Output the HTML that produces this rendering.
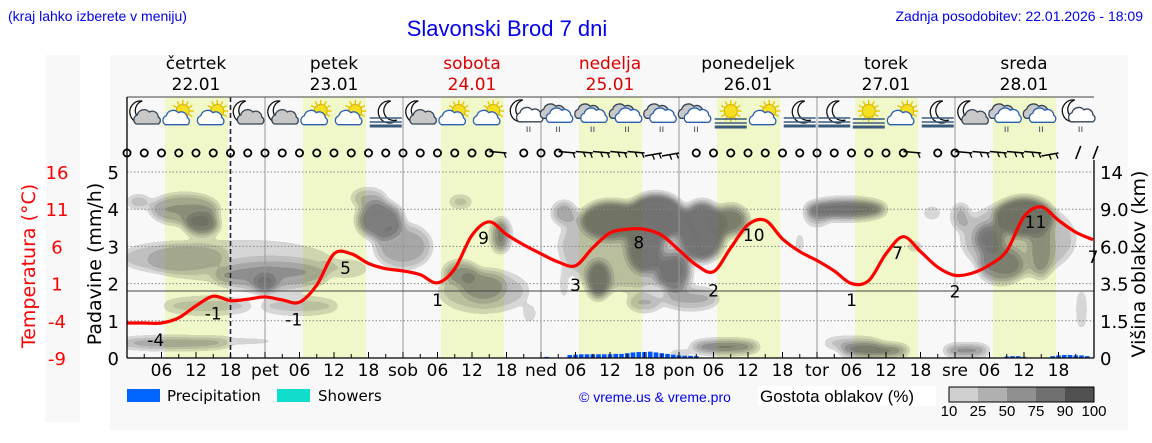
<!DOCTYPE html>
<html><head><meta charset="utf-8"><style>
html,body{margin:0;padding:0;background:#fff;}
svg{display:block;font-family:"Liberation Sans","DejaVu Sans",sans-serif;}
.dj{font-family:"DejaVu Sans","Liberation Sans",sans-serif;}
</style></head><body>
<svg id="chart" width="1152" height="443" viewBox="0 0 1152 443" xmlns="http://www.w3.org/2000/svg">
<defs>
<filter id="cl" x="-20%" y="-20%" width="140%" height="140%">
<feGaussianBlur stdDeviation="4.5"/>
<feComponentTransfer><feFuncA type="discrete" tableValues="0 0.18 0.3 0.42 0.55 0.65 0.7 0.7"/></feComponentTransfer>
</filter>
<clipPath id="plotclip"><rect x="127" y="160" width="967" height="198"/></clipPath>
</defs>
<rect x="45" y="55" width="35" height="367" fill="#f8f8f8"/>
<rect x="110" y="55" width="1018" height="375" fill="#f8f8f8"/>
<text x="8" y="21" font-size="14" fill="#0000ee">(kraj lahko izberete v meniju)</text>
<text x="507" y="36" font-size="22" fill="#0000ee" text-anchor="middle">Slavonski Brod 7 dni</text>
<text x="1143" y="21" font-size="14" fill="#0000ee" text-anchor="end">Zadnja posodobitev: 22.01.2026 - 18:09</text>
<g id="days"></g>
<g id="clouds" clip-path="url(#plotclip)" filter="url(#cl)"></g>
<g id="grid"></g>
<g id="icons"></g>
<g id="wind"></g>
<g id="precip"></g>
<g id="temp"></g>
<g id="axes"></g>
<g id="legend">
<rect x="127" y="389" width="33" height="13" fill="#0066ff"/>
<text x="167" y="401" font-size="15" class="dj">Precipitation</text>
<rect x="277" y="389" width="33" height="13" fill="#11ddcc"/>
<text x="318" y="401" font-size="15" class="dj">Showers</text>
<text x="579" y="402" font-size="14" fill="#0000ee">© vreme.us &amp; vreme.pro</text>
<rect x="758" y="386" width="178" height="20" fill="#fff"/>
<text x="760" y="402" font-size="17">Gostota oblakov (%)</text>
<g id="cbar"></g>
</g>
</svg>
<script>
const NS="http://www.w3.org/2000/svg";
function mk(tag,attrs,parent){const e=document.createElementNS(NS,tag);for(const k in attrs)e.setAttribute(k,attrs[k]);parent.appendChild(e);return e;}
const X0=127, PXH=5.75, Y0=358, PXMM=37.2, T0Y=291, PXT=7.44;
const xH=h=>X0+h*PXH, yP=v=>Y0-v*PXMM, yT=t=>T0Y-t*PXT;

// data
const dayNames=["četrtek","petek","sobota","nedelja","ponedeljek","torek","sreda"];
const dayDates=["22.01","23.01","24.01","25.01","26.01","27.01","28.01"];
const dayAbbr=["","pet","sob","ned","pon","tor","sre"];
const weekend=[false,false,true,true,false,false,false];
const sunrise=[6.6,6.6,6.6,6.6,6.6,6.6,6.6];
const sunset=[17.6,17.6,17.6,17.6,17.6,17.6,17.6];
const tempHours=[0,3,6,9,12,15,18,21,24,27,30,33,36,39,42,45,48,51,54,57,60,63,66,69,72,75,78,81,84,87,90,93,96,99,102,105,108,111,114,117,120,123,126,129,132,135,138,141,144,147,150,153,156,159,162,165,168];
const tempVals=[-4.3,-4.3,-4.3,-3.6,-2.0,-0.7,-1.3,-1.1,-0.8,-1.2,-1.5,0.8,5.0,5.0,3.7,3.0,2.7,2.2,1.1,3.0,7.5,9.3,7.6,6.2,5.0,3.9,3.4,5.8,7.8,8.3,8.3,7.5,5.5,3.5,2.6,5.8,8.9,9.5,7.0,5.3,4.1,2.7,1.0,1.4,5.0,7.3,5.3,3.2,2.1,2.4,3.5,5.4,10.0,11.3,9.5,7.9,6.9];
const tempLabelHours=[5,15,29,38,54,62,78,89,102,109,126,134,144,158,168];
const tempLabelVals=[-4,-1,-1,5,1,9,3,8,2,10,1,7,2,11,7];
const tempLabelOffsets=[-2.6,-2.0,-2.8,-1.9,-2.2,-1.9,-2.2,-1.5,-1.9,-2.5,-2.2,-1.9,-2.1,-1.7,-2.4];
const precipHours=[73,77,78,79,80,81,82,83,84,85,86,87,88,89,90,91,92,93,94,95,96,97,98,99,153,154,155,156,161,162,163,164,165,166,167];
const precipVals=[0.03,0.08,0.09,0.1,0.1,0.1,0.1,0.1,0.1,0.11,0.11,0.13,0.15,0.16,0.16,0.17,0.15,0.13,0.11,0.09,0.07,0.06,0.06,0.05,0.04,0.05,0.05,0.03,0.05,0.07,0.08,0.08,0.07,0.07,0.05];
// cloud blobs: hour, height (left-axis units), half-width (h), half-height, density
const cloudHours=[10,13,2,8,25,24,30,14,8,20,44,42,48,38,58,62,58,65,70,76,84,92,90,82,95,100,105,90,98,76,104,96,125,120,117,130,126,140,145,137,156,150,152,159,146,166,87,155,62,20];
const cloudHeights=[4.0,3.6,4.2,2.7,2.2,2.0,1.4,1.4,0.4,0.45,3.7,4.3,3.0,2.4,2.3,1.9,4.2,3.3,1.2,3.9,3.7,3.8,3.0,2.1,2.3,3.4,3.7,1.5,1.6,2.0,0.3,0.1,4.0,3.8,3.1,0.2,0.4,3.9,3.8,3.0,3.8,3.2,2.5,3.0,0.2,1.3,3.0,3.2,1.8,2.6];
const cloudWidths=[6,3,2,9,10,2,7,8,10,8,4,3,5,4,3,4,2,1.5,1,2,5,5,3,2,3,4,3,3,5,0.5,6,2,7,2,0.5,6,5,1.5,1.5,1.5,5,2.5,4,2,4,0.5,12,10,8,16];
const cloudSpans=[0.4,0.3,0.15,0.4,0.4,0.25,0.25,0.25,0.12,0.08,0.5,0.25,0.6,0.25,0.3,0.4,0.15,0.45,0.25,0.3,0.5,0.6,0.7,0.5,0.5,0.8,0.4,0.25,0.3,0.5,0.15,0.08,0.25,0.25,0.35,0.15,0.15,0.15,0.35,0.12,0.5,0.4,0.5,0.9,0.12,0.6,1.2,1.0,0.6,0.6];
const cloudDens=[0.5,0.75,0.45,0.35,0.4,0.75,0.3,0.3,0.7,0.3,0.7,0.4,0.4,0.25,0.5,0.4,0.4,0.7,0.3,0.5,0.85,0.95,0.85,0.85,0.75,0.85,0.7,0.4,0.4,0.35,0.8,0.45,0.85,0.4,0.35,0.85,0.4,0.35,0.45,0.35,0.95,0.7,0.55,0.4,0.8,0.45,0.3,0.3,0.28,0.22];
const iconTypes=["mc","sc","sc","mc","mc","sc","sc","mf","mc","sc","sc","mr","r","r","r","r","r","sf","sc","mf","mf","sf","sc","mf","mc","r","r","mr"];
const windSpeed=[0,0,0,0,0,0,0,0,0,0,0,0,0,0,0,0,0,0,0,0,0,0,2,0,0,0,2,3,3,3,3,4,4,0,0,0,0,0,0,0,0,0,0,0,0,0,2,0,0,2,3,3,3,3,4,5,5];
const leftTicks=[0,1,2,3,4,5];
const tempTicks=[16,11,6,1,-4,-9];
const rightTicks=["0","1.5","3.5","6.0","9.0","14"];
const cbarLabels=["10","25","50","75","90","100"];
const cbarColors=["#d0d0d0","#b0b0b0","#909090","#707070","#505050"];

const gDays=document.getElementById('days');
for(let d=0;d<7;d++){
  const r=mk('rect',{x:xH(d*24+sunrise[d]),y:97,width:(sunset[d]-sunrise[d])*PXH,height:261,fill:'#f0f7c8'},gDays);
  
  
  const col=weekend[d]?'#dd0000':'#000';
  const t1=mk('text',{x:xH(d*24+12),y:69,'font-size':17,'text-anchor':'middle',fill:col,class:'dj'},gDays);t1.textContent=dayNames[d];
  
  
  const t2=mk('text',{x:xH(d*24+12),y:90,'font-size':17,'text-anchor':'middle',fill:col,class:'dj'},gDays);t2.textContent=dayDates[d];
  
  
}
// clouds
const gC=document.getElementById('clouds');
for(let i=0;i<cloudHours.length;i++){
  const e=mk('ellipse',{cx:xH(cloudHours[i]),cy:yP(cloudHeights[i]),rx:Math.max(cloudWidths[i]*PXH,3),ry:Math.max(cloudSpans[i]*PXMM,3),fill:'#3a3a3a','fill-opacity':cloudDens[i]},gC);
  
  
}
// grid
const gG=document.getElementById('grid');
for(const v of leftTicks){ if(v===0)continue;
  const l=mk('line',{x1:127,x2:1094,y1:yP(v),y2:yP(v),stroke:'#888','stroke-dasharray':'1.5,2','stroke-width':1},gG);
  
  
}
for(let d=1;d<7;d++){
  const l=mk('line',{x1:xH(d*24),x2:xH(d*24),y1:97,y2:358,stroke:'#999','stroke-width':1},gG);
  
  
}
const zl=mk('line',{x1:127,x2:1094,y1:yT(0),y2:yT(0),stroke:'#444','stroke-width':1},gG);


const nowL=mk('line',{x1:xH(18),x2:xH(18),y1:97,y2:358,stroke:'#222','stroke-width':1.6,'stroke-dasharray':'5,3'},gG);


mk('line',{x1:127,x2:1094,y1:97,y2:97,stroke:'#444'},gG);
// icons
const gI=document.getElementById('icons');
function cloud(g,cx,cy,s,fill,stroke){
  mk('path',{d:`M${cx-11*s},${cy+6*s} a5 5 0 0 1 1,-9 a7 7 0 0 1 12,-3 a6 6 0 0 1 9,5 a4 4 0 0 1 0,7 z`,fill:fill,stroke:stroke,'stroke-width':1.3},g);
}
function sun(g,cx,cy){
  for(let a=0;a<12;a++){const an=a*Math.PI/6;mk('line',{x1:cx+Math.cos(an)*7,y1:cy+Math.sin(an)*7,x2:cx+Math.cos(an)*11,y2:cy+Math.sin(an)*11,stroke:'#e8c800','stroke-width':1.5},g);}
  mk('circle',{cx:cx,cy:cy,r:6.5,fill:'#f4e020',stroke:'#d8b000','stroke-width':1},g);
}
function moon(g,cx,cy){
  mk('path',{d:`M${cx+3},${cy-11} a11 11 0 1 0 6,19 a9 9 0 0 1 -6,-19 z`,fill:'#fff',stroke:'#111','stroke-width':1.3},g);
}
function fog(g,cx,cy){
  for(let k=0;k<3;k++)mk('line',{x1:cx-16,x2:cx+16,y1:cy+k*4,y2:cy+k*4,stroke:'#3a5a7a','stroke-width':k==2?3:1.5},g);
}
for(let k=0;k<iconTypes.length;k++){
  const cx=xH(k*6+3), cy=114, t=iconTypes[k];
  const g=mk('g',{},gI);
  
  
  if(t==='mc'){moon(g,cx-5,cy-2);cloud(g,cx+3,cy+4,1,'#c8c8c8','#345');}
  else if(t==='sc'){sun(g,cx+4,cy-3);cloud(g,cx-3,cy+5,0.95,'#fff','#2a60b0');}
  else if(t==='mf'){moon(g,cx+2,cy-2);fog(g,cx,cy+4);}
  else if(t==='sf'){sun(g,cx,cy-3);fog(g,cx,cy+5);}
  else if(t==='mr'){moon(g,cx-4,cy-3);cloud(g,cx+4,cy+3,0.8,'#fff','#345');mk('text',{x:cx+2,y:cy+18,'font-size':10,fill:'#345'},g).textContent='ıı';}
  else {cloud(g,cx-4,cy-2,1.05,'#c8c8c8','#345');cloud(g,cx+2,cy+2,1.05,'#fff','#2a60b0');mk('text',{x:cx-3,y:cy+18,'font-size':10,fill:'#345'},g).textContent='ıı';}
}
// wind
const gW=document.getElementById('wind');
for(let i=0;i<windSpeed.length;i++){
  const x=xH(i*3), y=153;
  if(windSpeed[i]===0){
    const c=mk('circle',{cx:x,cy:y,r:3.6,fill:'none',stroke:'#000','stroke-width':1.8},gW);
    
    
  } else {
    const g=mk('g',{},gW);
    
    
    const s=windSpeed[i];
    const dy = s>=5?-13: (s>=4?3:-1.5);
    const dx = s>=5?5:-17;
    mk('line',{x1:x,y1:y+(s>=5?6:0),x2:x+dx,y2:y+dy+(s>=5?6:0),stroke:'#000','stroke-width':1.6},g);
    if(s<5) for(let b=0;b<Math.min(s,3);b+=2){
      mk('line',{x1:x+dx*(0.15+b*0.2),y1:y+dy*(0.15+b*0.2),x2:x+dx*(0.15+b*0.2)+2,y2:y+dy*(0.15+b*0.2)+5,stroke:'#000','stroke-width':1.3},g);
    }
  }
}
// precipitation
const gP=document.getElementById('precip');
for(let i=0;i<precipHours.length;i++){
  const h=precipVals[i]*PXMM;
  const r=mk('rect',{x:xH(precipHours[i])-2.3,y:Y0-h,width:4.6,height:h,fill:'#0055ff'},gP);
  
  
}
// temperature
const gT=document.getElementById('temp');
const pts=tempHours.map((h,i)=>[xH(h),yT(tempVals[i])]);
let d=`M${pts[0][0]},${pts[0][1]}`;
for(let i=0;i<pts.length-1;i++){
  const p0=pts[Math.max(i-1,0)],p1=pts[i],p2=pts[i+1],p3=pts[Math.min(i+2,pts.length-1)];
  d+=` C${p1[0]+(p2[0]-p0[0])/6},${p1[1]+(p2[1]-p0[1])/6} ${p2[0]-(p3[0]-p1[0])/6},${p2[1]-(p3[1]-p1[1])/6} ${p2[0]},${p2[1]}`;
}
const tl=mk('path',{d:d,fill:'none',stroke:'#ff0000','stroke-width':3.2,'stroke-linejoin':'round'},gT);


for(let i=0;i<tempLabelHours.length;i++){
  const t=mk('text',{x:xH(tempLabelHours[i]),y:yT(tempLabelVals[i]+tempLabelOffsets[i])+6,'font-size':17,'text-anchor':'middle',fill:'#000',class:'dj'},gT);
  t.textContent=tempLabelVals[i];
  
  
}
// axes
const gA=document.getElementById('axes');
mk('line',{x1:127,x2:127,y1:97,y2:358,stroke:'#000','stroke-width':1.3},gA);
mk('line',{x1:1094,x2:1094,y1:160,y2:358,stroke:'#000','stroke-width':1.3},gA);
mk('line',{x1:127,x2:1094,y1:358,y2:358,stroke:'#000','stroke-width':1.3},gA);
for(const v of leftTicks){
  const t=mk('text',{x:119,y:yP(v)+7,'font-size':18,'text-anchor':'end',class:'dj'},gA);t.textContent=v;
  
  
}
tempTicks.forEach((v,i)=>{
  const t=mk('text',{x:57,y:yT(v)+7,'font-size':18,'text-anchor':'middle',fill:'#ff0000',class:'dj'},gA);t.textContent=v;
  
  
});
rightTicks.forEach((v,i)=>{
  const t=mk('text',{x:1100,y:yP(i)+7,'font-size':18,class:'dj'},gA);t.textContent=v;
  
  
});
for(let h=3;h<168;h+=3){
  mk('line',{x1:xH(h),x2:xH(h),y1:358,y2:h%6?354:352,stroke:'#000'},gA);
}
for(let dd=0;dd<7;dd++){
  for(const hh of [0,6,12,18]){
    const lab = hh===0?dayAbbr[dd]:String(hh).padStart(2,'0');
    if(!lab)continue;
    const t=mk('text',{x:xH(dd*24+hh),y:376,'font-size':17,'text-anchor':'middle',class:'dj'},gA);t.textContent=lab;
    
    
  }
}
const yl=mk('text',{x:0,y:0,'font-size':19,'text-anchor':'middle',transform:'translate(101,264) rotate(-90)',class:'dj'},gA);yl.textContent='Padavine (mm/h)';


const tt=mk('text',{x:0,y:0,'font-size':19,'text-anchor':'middle',fill:'#ff0000',transform:'translate(35,266) rotate(-90)',class:'dj'},gA);tt.textContent='Temperatura (°C)';


const rt=mk('text',{x:0,y:0,'font-size':19,'text-anchor':'middle',transform:'translate(1145,264) rotate(-90)',class:'dj'},gA);rt.textContent='Višina oblakov (km)';


// colorbar
const gB=document.getElementById('cbar');
cbarColors.forEach((c,i)=>{
  const r=mk('rect',{x:949+i*29,y:387,width:29,height:15,fill:c},gB);
  
  
});
mk('rect',{x:949,y:387,width:145,height:15,fill:'none',stroke:'#000'},gB);
cbarLabels.forEach((v,i)=>{
  const t=mk('text',{x:949+i*29,y:416,'font-size':15,'text-anchor':'middle'},gB);t.textContent=v;
  
  
});
</script>
</body></html>
